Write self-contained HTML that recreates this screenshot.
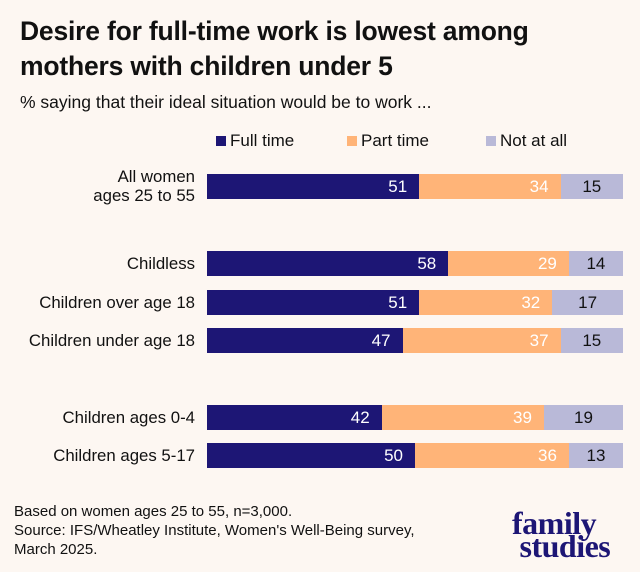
<!DOCTYPE html>
<html><head><meta charset="utf-8"><style>
body{margin:0;background:#fdf7f2;font-family:"Liberation Sans",sans-serif;}
.w{position:relative;width:640px;height:572px;overflow:hidden;background:#fdf7f2;color:#111;}
.t{position:absolute;left:20px;top:14px;font-size:26.5px;font-weight:bold;line-height:35px;letter-spacing:-0.2px;}
.s{position:absolute;left:20px;top:92px;font-size:17.5px;}
.lg{position:absolute;top:131px;font-size:17px;}
.lg i{display:inline-block;width:10px;height:10px;margin-right:4px;vertical-align:0px;}
.lab{position:absolute;right:445px;font-size:16.8px;text-align:right;line-height:19px;}
.bar{position:absolute;left:207px;width:416px;height:25px;display:flex;}
.bar div{height:100%;font-size:17px;line-height:25px;text-align:right;box-sizing:border-box;padding-right:12px;}
.f{background:#1d1675;color:#fff}.p{background:#ffb478;color:#fff}.n{background:#b9b9d8;color:#111;text-align:center!important;padding-right:0!important}
.fn{position:absolute;left:14px;top:502px;font-size:15px;line-height:19px;}
.logo{position:absolute;left:512px;top:512px;font-family:"Liberation Serif",serif;font-weight:bold;color:#1d1675;font-size:32px;line-height:23px;letter-spacing:-0.5px;}
</style></head><body><div class="w">
<div class="t">Desire for full-time work is lowest among<br>mothers with children under 5</div>
<div class="s">% saying that their ideal situation would be to work ...</div>
<div class="lg" style="left:216px"><i style="background:#1d1675"></i>Full time</div>
<div class="lg" style="left:347px"><i style="background:#ffb478"></i>Part time</div>
<div class="lg" style="left:486px"><i style="background:#b9b9d8"></i>Not at all</div>

<div class="lab" style="top:167px">All women<br>ages 25 to 55</div>
<div class="bar" style="top:174px"><div class="f" style="width:51%">51</div><div class="p" style="width:34%">34</div><div class="n" style="width:15%">15</div></div>

<div class="lab" style="top:254px">Childless</div>
<div class="bar" style="top:251px"><div class="f" style="width:58%">58</div><div class="p" style="width:29%">29</div><div class="n" style="width:13%">14</div></div>

<div class="lab" style="top:293px">Children over age 18</div>
<div class="bar" style="top:290px"><div class="f" style="width:51%">51</div><div class="p" style="width:32%">32</div><div class="n" style="width:17%">17</div></div>

<div class="lab" style="top:331px">Children under age 18</div>
<div class="bar" style="top:328px"><div class="f" style="width:47%">47</div><div class="p" style="width:38%">37</div><div class="n" style="width:15%">15</div></div>

<div class="lab" style="top:408px">Children ages 0-4</div>
<div class="bar" style="top:405px"><div class="f" style="width:42%">42</div><div class="p" style="width:39%">39</div><div class="n" style="width:19%">19</div></div>

<div class="lab" style="top:446px">Children ages 5-17</div>
<div class="bar" style="top:443px"><div class="f" style="width:50%">50</div><div class="p" style="width:37%">36</div><div class="n" style="width:13%">13</div></div>

<div class="fn">Based on women ages 25 to 55, n=3,000.<br>Source: IFS/Wheatley Institute, Women's Well-Being survey,<br>March 2025.</div>
<div class="logo">family<br>&nbsp;studies</div>
</div></body></html>
